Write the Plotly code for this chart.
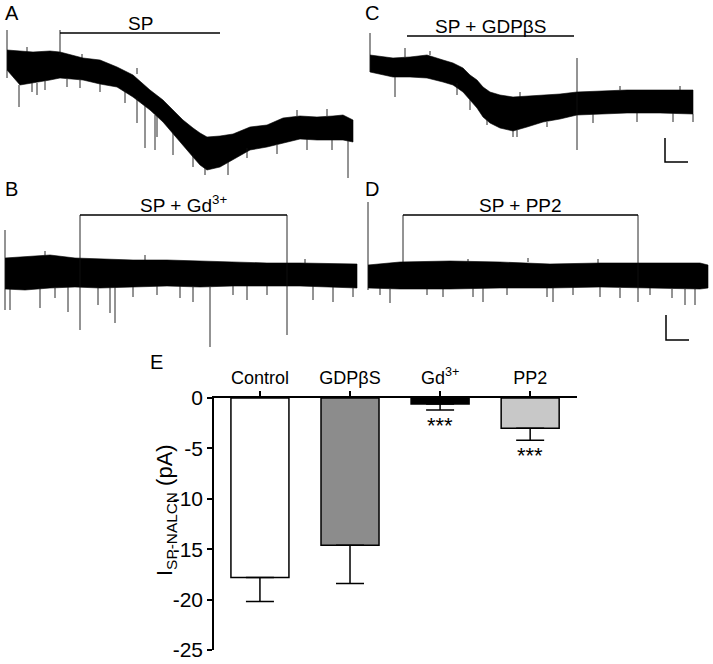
import plotly.graph_objects as go

# ---- panel E: bar chart values (pA) ----
groups = ["Control", "GDPβS", "Gd<sup>3+</sup>", "PP2"]
means = [-17.8, -14.6, -0.6, -3.0]
sems = [2.4, 3.8, 0.6, 1.2]
bar_colors = ["#ffffff", "#8c8c8c", "#000000", "#c8c8c8"]
signif = ["", "", "***", "***"]
y_ticks = [0, -5, -10, -15, -20, -25]
y_ticktext = ["0", "-5", "-10", "-15", "-20", "-25"]

# ---- traces: time (s), upper/lower envelope of the current (pA) ----
A_t = [0, 13, 26, 43, 53, 76, 93, 110, 126, 143, 156, 166, 176, 186, 193, 200, 213, 226, 243, 260, 276, 293, 310, 326, 336, 346]
A_hi = [12, 11, 10, 11, 10, 4, 2, -5, -13, -28, -38, -48, -58, -66, -71, -75, -74, -72, -65, -63, -56, -54, -55, -54, -53, -58]
A_lo = [-8, -23, -21, -18, -16, -18, -22, -25, -35, -48, -60, -71, -83, -95, -103, -108, -105, -98, -88, -85, -81, -77, -78, -78, -78, -80]
A_spike_t = [0, 53, 12, 30, 138, 148, 166, 198, 221, 341, 25, 38, 60, 73, 93, 118, 130, 150, 186, 240, 270, 300, 325, 20, 75, 130, 290, 320]
A_spike_hi = [32, 32, -23, -21, -43, -53, -71, -106, -100, -78, -21, -19, -17, -18, -22, -28, -36, -54, -93, -86, -83, -77, -78, 10, 4, -12, -54, -54]
A_spike_lo = [-16, 7, -45, -33, -86, -88, -93, -113, -113, -116, -30, -28, -25, -26, -30, -41, -61, -75, -105, -96, -92, -88, -88, 15, 8, -6, -48, -47]

C_t = [0, 13, 23, 40, 57, 73, 83, 93, 100, 107, 113, 120, 130, 143, 157, 173, 190, 207, 230, 257, 290, 323]
C_hi = [9, 7, 6, 7, 9, 4, 1, -4, -11, -16, -23, -28, -31, -33, -32, -31, -30, -28, -27, -26, -26, -26]
C_lo = [-8, -11, -13, -13, -14, -18, -21, -28, -36, -44, -53, -59, -64, -67, -63, -58, -55, -51, -50, -49, -49, -50]
C_spike_t = [0, 25, 35, 207, 100, 143, 323, 87, 117, 147, 177, 223, 267, 303, 60, 150, 250, 310]
C_spike_hi = [31, -13, 16, 6, -36, -66, -50, -19, -56, -66, -58, -50, -49, -49, 9, -33, -26, -26]
C_spike_lo = [-8, -33, 7, -86, -46, -73, -58, -31, -61, -73, -63, -59, -58, -58, 13, -28, -22, -22]

B_t = [0, 20, 45, 70, 95, 128, 162, 195, 228, 262, 295, 328, 352]
B_hi = [17, 18, 20, 17, 16, 15, 15, 14, 13, 12, 12, 11, 11]
B_lo = [-14, -15, -13, -12, -13, -12, -11, -12, -11, -11, -11, -12, -13]
B_spike_t = [0, 5, 35, 50, 63, 75, 93, 105, 110, 128, 152, 175, 188, 205, 228, 242, 262, 282, 308, 328, 348, 40, 140, 300]
B_spike_hi = [45, -14, -13, -13, -12, 60, -13, -12, -12, -12, -11, -11, -12, -12, -11, -11, -11, 60, -11, -12, -13, 19, 15, 12]
B_spike_lo = [-35, -35, -33, -23, -37, -55, -30, -38, -48, -22, -20, -23, -27, -72, -20, -25, -20, -60, -25, -27, -22, 24, 20, 16]

D_t = [0, 32, 82, 132, 182, 232, 282, 332, 340]
D_hi = [12, 15, 16, 15, 13, 14, 14, 14, 12]
D_lo = [-11, -12, -12, -11, -11, -10, -11, -12, -11]
D_spike_t = [0, 35, 270, 12, 22, 59, 75, 105, 115, 139, 179, 185, 205, 232, 252, 282, 304, 317, 327, 100, 160, 230]
D_spike_hi = [75, 62, 62, -11, -12, -12, -12, -11, -11, -11, -11, -11, -10, -10, -11, -11, -12, -12, -12, 14, 15, 14]
D_spike_lo = [-13, 15, -25, -18, -26, -18, -20, -20, -25, -18, -20, -25, -18, -20, -21, -18, -21, -28, -28, 18, 19, 18]

# drug application: label, on, off, level of the bar
A_drug = ("SP", 53, 213, 29)
C_drug = ("SP + GDPβS", 37, 204, 28)
B_drug = ("SP + Gd<sup>3+</sup>", 75, 282, 60)
D_drug = ("SP + PP2", 35, 270, 62)

# scale bars (time, current)
C_scale_t = [295, 295, 318]
C_scale_i = [-74, -98, -98]
D_scale_t = [298, 298, 321]
D_scale_i = [-38, -63, -63]

W, H = 713, 664
FONT = "Liberation Sans, Arial, sans-serif"

fig = go.Figure()


def add_panel(n, letter, box, origin, t, hi, lo, sp_t, sp_hi, sp_lo, drug, scale=None):
    x0, x1, y0, y1 = box
    xs, base = origin
    xa, ya = "x%d" % n, "y%d" % n
    # dense noisy recording drawn as its envelope
    fig.add_trace(go.Scatter(
        x=t + t[::-1], y=hi + lo[::-1], fill="toself", fillcolor="black",
        mode="lines", line=dict(color="black", width=0.6), hoverinfo="skip",
        xaxis=xa, yaxis=ya, showlegend=False))
    # single events / artefacts
    sx, sy = [], []
    for a, b, c in zip(sp_t, sp_hi, sp_lo):
        sx += [a, a, None]
        sy += [b, c, None]
    fig.add_trace(go.Scatter(x=sx, y=sy, mode="lines", line=dict(color="#111111", width=0.9),
                             hoverinfo="skip", xaxis=xa, yaxis=ya, showlegend=False))
    name, on, off, lvl = drug
    fig.add_trace(go.Scatter(x=[on, off], y=[lvl, lvl], mode="lines",
                             line=dict(color="black", width=1.5), hoverinfo="skip",
                             xaxis=xa, yaxis=ya, showlegend=False))
    fig.add_annotation(x=(on + off) / 2, y=lvl, xref=xa, yref=ya, text=name,
                       showarrow=False, yanchor="bottom", yshift=-3,
                       font=dict(size=19, color="black", family=FONT))
    if scale:
        fig.add_trace(go.Scatter(x=scale[0], y=scale[1], mode="lines",
                                 line=dict(color="black", width=1.5), hoverinfo="skip",
                                 xaxis=xa, yaxis=ya, showlegend=False))
    key = "" if n == 1 else str(n)
    fig.update_layout(**{
        "xaxis" + key: dict(domain=[x0 / W, x1 / W], range=[x0 - xs, x1 - xs],
                            visible=False, fixedrange=True, automargin=False),
        "yaxis" + key: dict(domain=[1 - y1 / H, 1 - y0 / H], range=[base - y1, base - y0],
                            visible=False, fixedrange=True, automargin=False),
    })
    fig.add_annotation(x=(x0 + 3) / W, y=1 - y0 / H,
                       xref="paper", yref="paper", text=letter, showarrow=False,
                       xanchor="left", yanchor="top",
                       font=dict(size=20, color="black", family=FONT))


add_panel(1, "A", (0, 360, 0, 180), (7, 62), A_t, A_hi, A_lo,
          A_spike_t, A_spike_hi, A_spike_lo, A_drug)
add_panel(2, "C", (360, 713, 0, 180), (370, 64), C_t, C_hi, C_lo,
          C_spike_t, C_spike_hi, C_spike_lo, C_drug, (C_scale_t, C_scale_i))
add_panel(3, "B", (0, 360, 176, 355), (5, 275), B_t, B_hi, B_lo,
          B_spike_t, B_spike_hi, B_spike_lo, B_drug)
add_panel(4, "D", (360, 713, 176, 355), (368, 277), D_t, D_hi, D_lo,
          D_spike_t, D_spike_hi, D_spike_lo, D_drug, (D_scale_t, D_scale_i))

# ---- panel E ----
fig.add_trace(go.Bar(
    x=groups, y=means, width=0.644, xaxis="x5", yaxis="y5",
    marker=dict(color=bar_colors, line=dict(color="black", width=1.5)),
    error_y=dict(type="data", symmetric=False, array=[0] * 4, arrayminus=sems,
                 color="black", thickness=1.5, width=14),
    showlegend=False, hoverinfo="skip"))

for g, m, s, txt in zip(groups, means, sems, signif):
    if txt:
        fig.add_annotation(x=g, y=m - s - 1.5, xref="x5", yref="y5", text=txt,
                           showarrow=False, font=dict(size=22, color="black", family=FONT))

fig.update_layout(
    xaxis5=dict(domain=[214 / W, 577 / W], range=[-0.51, 3.52], side="top",
                anchor="y5", showline=True, linecolor="black", linewidth=1.5,
                ticks="outside", ticklen=5, tickwidth=1.5, tickcolor="black",
                automargin=False,
                tickfont=dict(size=18, color="black", family=FONT), fixedrange=True),
    yaxis5=dict(domain=[1 - 650 / H, 1 - 398 / H], range=[-25, 0], anchor="x5",
                tickvals=y_ticks, ticktext=y_ticktext, showline=True,
                linecolor="black", linewidth=1.5, automargin=False,
                ticks="outside", ticklen=5, tickwidth=1.5, tickcolor="black",
                showgrid=False, zeroline=False,
                tickfont=dict(size=21, color="black", family=FONT), fixedrange=True),
)

fig.add_annotation(x=150 / W, y=1 - 578 / H, xref="paper", yref="paper",
                   text="I<sub>SP-NALCN</sub> (pA)", textangle=-90, showarrow=False,
                   font=dict(size=22, color="black", family=FONT))
fig.add_annotation(x=148 / W, y=1 - 349 / H, xref="paper", yref="paper", text="E",
                   showarrow=False, xanchor="left", yanchor="top",
                   font=dict(size=20, color="black", family=FONT))

fig.update_layout(width=W, height=H, margin=dict(l=0, r=0, t=0, b=0, autoexpand=False),
                  paper_bgcolor="white", plot_bgcolor="rgba(0,0,0,0)",
                  showlegend=False)

fig.write_html("out.html", config={"displayModeBar": False},
               post_script="document.body.style.margin='0px';")
